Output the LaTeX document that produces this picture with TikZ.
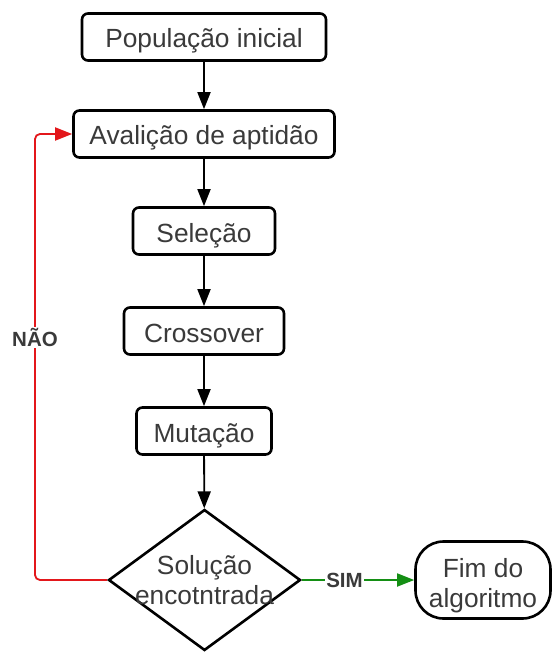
\documentclass[tikz,border=0pt]{standalone}
\usepackage{fontspec}
\setmainfont{Liberation Sans}
\usetikzlibrary{shapes.geometric,arrows.meta}
\definecolor{txt}{HTML}{3A3A3A}
\definecolor{noRed}{HTML}{E3171B}
\definecolor{yesGreen}{HTML}{148F14}
\begin{document}
\begin{tikzpicture}[x=1pt,y=-1pt,
  stepbox/.style={draw=black,line width=2.6pt,rounded corners=6pt,fill=white,
    text=txt,font=\fontsize{26.3}{30}\selectfont,inner sep=0pt,
    text height=22pt,text depth=0pt,minimum height=47pt},
  decision/.style={draw=black,line width=2.6pt,diamond,inner sep=0pt,
    minimum width=192pt,minimum height=141pt},
  endbox/.style={draw=black,line width=2.6pt,rounded corners=28pt,inner sep=0pt,
    minimum width=135pt,minimum height=77pt},
  bodytext/.style={text=txt,font=\fontsize{26.3}{30}\selectfont,align=center,inner sep=0pt},
  flow/.style={line width=1.8pt,-{Triangle[length=17pt,width=13pt]}},
  lbl/.style={fill=white,text=txt,font=\fontsize{20.5}{24}\selectfont\bfseries,inner sep=1pt}]
\useasboundingbox (0,0) rectangle (553,652);

% process steps
\node[stepbox,minimum width=244pt] (pop)   at (204,37)  {População inicial};
\node[stepbox,minimum width=261pt] (aval)  at (204,134) {Avalição de aptidão};
\node[stepbox,minimum width=142pt] (sel)   at (204,231) {Seleção};
\node[stepbox,minimum width=160pt] (cross) at (204,331) {Crossover};
\node[stepbox,minimum width=135pt] (mut)   at (204,431) {Mutação};

% decision and terminal
\node[decision] (dec) at (204.5,580) {};
\node[bodytext] (decText) at (204.5,580) {Solução\\encotntrada};
\node[endbox] (fim) at (483,580) {};
\node[bodytext] (fimText) at (483,586) {Fim do\\algoritmo};

% main flow
\draw[flow] (pop) -- (aval);
\draw[flow] (aval) -- (sel);
\draw[flow] (sel) -- (cross);
\draw[flow] (cross) -- (mut);
\draw[flow] (mut) -- (dec);

% loop back when no solution is found
\coordinate (loopCorner) at (35,134);
\draw[flow,noRed,rounded corners=5pt] (dec.west) -| (loopCorner) -- (aval.west);
\node[lbl] (no) at (35,337.5) {NÃO};

% exit when a solution is found
\draw[flow,yesGreen] (dec.east) -- (fim.west) node[lbl,pos=0.38] (yes) {SIM};
\end{tikzpicture}
\end{document}
